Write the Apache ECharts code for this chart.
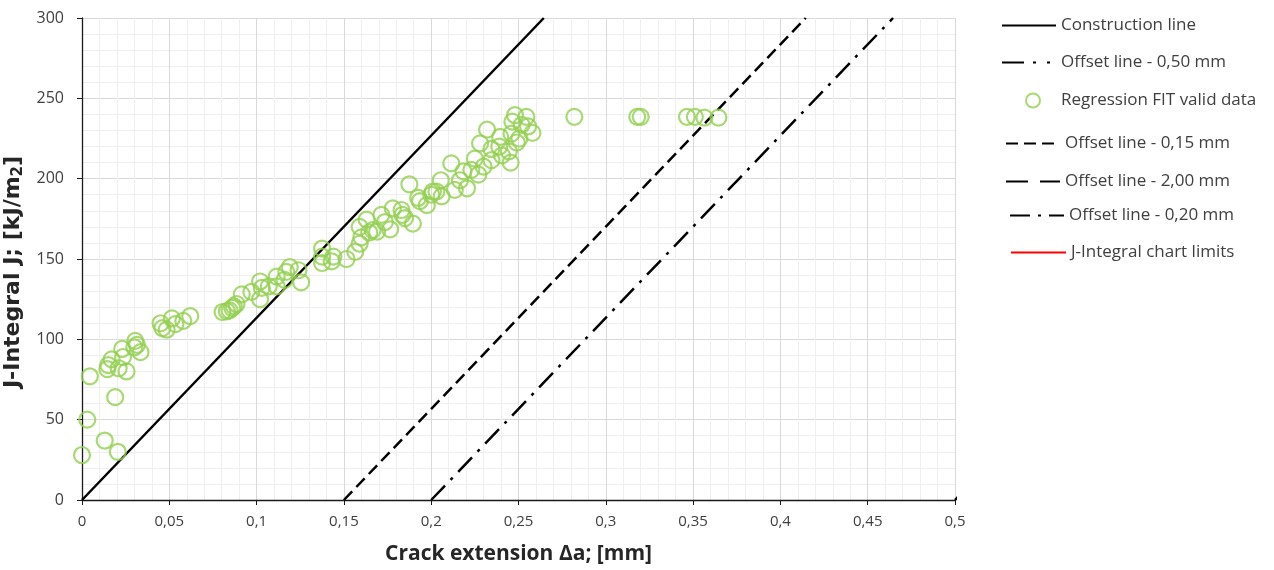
<!DOCTYPE html>
<html>
<head>
<meta charset="utf-8">
<script src="https://cdn.jsdelivr.net/npm/echarts@6/dist/echarts.min.js"></script>
<style>
  html, body { margin: 0; padding: 0; background: #ffffff; }
  #chart { width: 1274px; height: 570px; }
</style>
</head>
<body>
<div id="chart"></div>
<script>
// Axis ticks (crack extension in mm, J-integral in kJ/m2)
const xTicks = [0, 0.05, 0.1, 0.15, 0.2, 0.25, 0.3, 0.35, 0.4, 0.45, 0.5];
const yTicks = [0, 50, 100, 150, 200, 250, 300];

// Measured points: crack extension Δa [mm]
const crackExt = [
  0.000, 0.003, 0.0045, 0.013, 0.0145, 0.015, 0.017, 0.019, 0.0205, 0.021,
  0.023, 0.0235, 0.0255, 0.030, 0.0305, 0.0315, 0.0335, 0.045, 0.046, 0.0485,
  0.0515, 0.0535, 0.058, 0.062, 0.0805, 0.083, 0.0845, 0.086, 0.087, 0.0885,
  0.0915, 0.097, 0.102, 0.102, 0.103, 0.107, 0.1115, 0.1115, 0.116, 0.117,
  0.119, 0.124, 0.1255, 0.1375, 0.1375, 0.1375, 0.143, 0.144, 0.1515, 0.1565,
  0.159, 0.159, 0.160, 0.163, 0.1645, 0.1665, 0.169, 0.1715, 0.1735, 0.1765,
  0.178, 0.183, 0.1835, 0.185, 0.1875, 0.1895, 0.1925, 0.1935, 0.1975, 0.200,
  0.201, 0.203, 0.2055, 0.206, 0.2115, 0.2135, 0.2165, 0.2185, 0.2205, 0.223,
  0.225, 0.227, 0.228, 0.230, 0.232, 0.2345, 0.2345, 0.239, 0.2395, 0.2405,
  0.2445, 0.2455, 0.246, 0.2465, 0.248, 0.249, 0.2505, 0.2518, 0.2545, 0.2555,
  0.258, 0.282, 0.318, 0.320, 0.3465, 0.351, 0.3565, 0.3645
];
// Measured points: J-integral [kJ/m2]
const jValues = [
  28, 50, 77, 37, 81.5, 84, 87.5, 64, 30, 82,
  94, 89, 80, 95, 99, 96.5, 92, 110, 107, 106,
  113, 109.5, 111.5, 114.5, 117, 117.5, 118, 119.5, 120.5, 122,
  128, 129.5, 125, 136, 132, 133, 139, 133, 137, 142,
  145, 143, 135.5, 156.5, 151.5, 147.5, 148.5, 151.5, 150, 154.5,
  159.5, 170, 163.5, 174.5, 166.5, 168, 167, 177.5, 173, 168.5,
  181.5, 180.5, 177.5, 175.5, 196.5, 172, 188, 186, 183.5, 190,
  192, 192, 199, 189, 209.5, 193, 199, 204.5, 194, 205.5,
  212.5, 202.5, 222, 207.5, 230.5, 211.5, 218.5, 220, 226, 214.5,
  217, 210, 228, 235.5, 239.5, 222.5, 225, 233.5, 238.5, 232.5,
  228.5, 238.5, 238.5, 238.5, 238.5, 238.5, 238, 238
];

// Blunting / construction lines: end points [Δa, J]
const constructionLine = [[0, 0], [0.2645, 300]];
const offset015 = [[0.15, 0], [0.4145, 300]];
const offset020 = [[0.20, 0], [0.4645, 300]];
const offset050 = [[0.50, 0], [0.7645, 300]];
const offset200 = [[2.00, 0], [2.2645, 300]];
const chartLimits = [];

const scatterData = crackExt.map((x, i) => [x, jValues[i]]);

const fmt = v => String(+v.toFixed(2)).replace('.', ',');

const txt = '#404040';
const legendFont = { fontFamily: 'Open Sans, Liberation Sans, sans-serif', fontSize: 17, color: txt };

// One legend block per entry so each row can sit at its own height
function lineLegend(name, left, top, w) {
  return {
    data: [name], left: left, top: top, orient: 'vertical',
    itemWidth: w, itemHeight: 14, itemGap: 0, padding: 0,
    itemStyle: { color: 'rgba(0,0,0,0)', borderWidth: 0, opacity: 0 },
    textStyle: legendFont, selectedMode: false
  };
}

const chart = echarts.init(document.getElementById('chart'), null, { renderer: 'canvas' });
chart.setOption({
  animation: false,
  backgroundColor: '#ffffff',
  grid: { left: 82, top: 18, right: 319, bottom: 70, containLabel: false, outerBoundsMode: 'none' },
  legend: [
    lineLegend('Construction line', 1001, 17, 54),
    lineLegend('Offset line - 0,50 mm', 1001, 54, 54),
    {
      data: ['Regression FIT valid data'], left: 1025, top: 92, orient: 'vertical',
      itemWidth: 14, itemHeight: 14, itemGap: 0, padding: 0, selectedMode: false,
      textStyle: Object.assign({ padding: [0, 0, 0, 16] }, legendFont)
    },
    lineLegend('Offset line - 0,15 mm', 1005, 135, 54),
    lineLegend('Offset line - 2,00 mm', 1005, 173, 54),
    lineLegend('Offset line - 0,20 mm', 1009, 207, 54),
    lineLegend('J-Integral chart limits', 1010, 244, 55)
  ],
  xAxis: {
    type: 'value', min: 0, max: 0.5, interval: 0.05,
    name: 'Crack extension Δa; [mm]', nameLocation: 'middle', nameGap: 44,
    nameTextStyle: { fontFamily: 'Liberation Sans Narrow, Open Sans, sans-serif', fontWeight: 'bold', fontSize: 21, color: '#262626' },
    axisLine: { show: true, onZero: false, lineStyle: { color: '#1a1a1a', width: 1.3 } },
    axisTick: { show: true, length: 5, lineStyle: { color: '#1a1a1a' } },
    axisLabel: { formatter: fmt, margin: 14, fontFamily: 'Liberation Sans Narrow, Open Sans, sans-serif', fontSize: 15, color: txt },
    splitLine: { show: true, lineStyle: { color: '#d9d9d9', width: 1 } },
    minorTick: { show: false, splitNumber: 5 },
    minorSplitLine: { show: true, lineStyle: { color: '#efefef', width: 1 } }
  },
  yAxis: {
    type: 'value', min: 0, max: 300, interval: 50,
    name: 'J-Integral J; [kJ/m{sub|2}]', nameLocation: 'middle', nameGap: 24, nameRotate: 90,
    nameTextStyle: {
      fontFamily: 'DejaVu Sans, Open Sans, sans-serif', fontWeight: 'bold', fontSize: 22, color: '#262626',
      padding: [0, 26, 0, 0],
      rich: { sub: { fontFamily: 'DejaVu Sans, sans-serif', fontWeight: 'bold', fontSize: 15, color: '#262626', verticalAlign: 'bottom', padding: [10, 0, 0, 0] } }
    },
    axisLine: { show: true, onZero: false, lineStyle: { color: '#1a1a1a', width: 1.3 } },
    axisTick: { show: true, length: 5, lineStyle: { color: '#1a1a1a' } },
    axisLabel: { margin: 18, fontFamily: 'Open Sans, Liberation Sans, sans-serif', fontSize: 16, color: txt },
    splitLine: { show: true, lineStyle: { color: '#d9d9d9', width: 1 } },
    minorTick: { show: false, splitNumber: 5 },
    minorSplitLine: { show: true, lineStyle: { color: '#efefef', width: 1 } }
  },
  series: [
    {
      name: 'Construction line', type: 'line', data: constructionLine, symbol: 'none',
      lineStyle: { color: '#000000', width: 2.5, type: 'solid' }, itemStyle: { color: '#000000' }, z: 3
    },
    {
      name: 'Offset line - 0,50 mm', type: 'line', data: offset050, symbol: 'none',
      lineStyle: { color: '#000000', width: 2.5, type: [22, 9, 3, 11, 3, 11] }, itemStyle: { color: '#000000' }, z: 3
    },
    {
      name: 'Regression FIT valid data', type: 'scatter', data: scatterData,
      symbol: 'circle', symbolSize: 16,
      itemStyle: { color: 'rgba(255,255,255,0)', borderColor: '#92D050', borderWidth: 2.2 }, z: 4
    },
    {
      name: 'Offset line - 0,15 mm', type: 'line', data: offset015, symbol: 'none',
      lineStyle: { color: '#000000', width: 2.5, type: [12, 6] }, itemStyle: { color: '#000000' }, z: 3
    },
    {
      name: 'Offset line - 2,00 mm', type: 'line', data: offset200, symbol: 'none',
      lineStyle: { color: '#000000', width: 2.5, type: [22, 12] }, itemStyle: { color: '#000000' }, z: 3
    },
    {
      name: 'Offset line - 0,20 mm', type: 'line', data: offset020, symbol: 'none',
      lineStyle: { color: '#000000', width: 2.5, type: [20, 8, 3, 8] }, itemStyle: { color: '#000000' }, z: 3
    },
    {
      name: 'J-Integral chart limits', type: 'line', data: chartLimits, symbol: 'none',
      lineStyle: { color: '#ff0000', width: 2.5 }, itemStyle: { color: '#ff0000' }, z: 3
    }
  ]
});
</script>
</body>
</html>
